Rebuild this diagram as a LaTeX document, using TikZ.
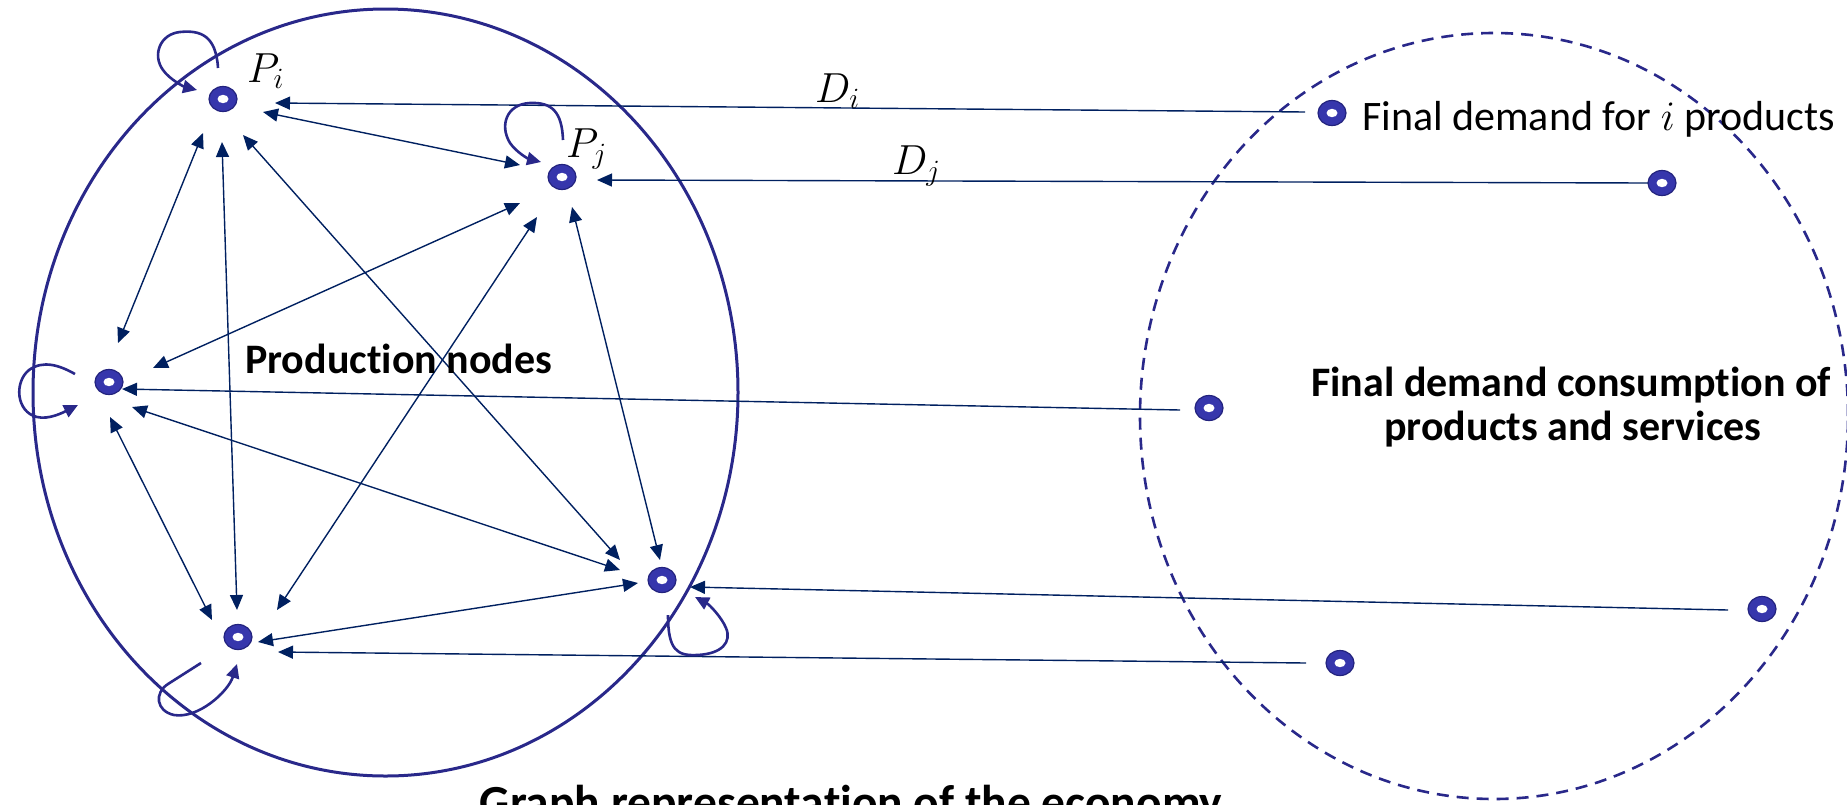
\RequirePackage{fix-cm}
\documentclass[tikz,border=0pt]{standalone}
\usepackage{fontspec}
\setmainfont{Carlito}[Ligatures=NoCommon]
\usetikzlibrary{arrows.meta,shapes.geometric}
\definecolor{navy}{HTML}{002060}
\definecolor{circblue}{HTML}{29288A}
\definecolor{ringfill}{HTML}{3636AC}
\definecolor{ringedge}{HTML}{23237E}
\begin{document}
\begin{tikzpicture}[x=1pt,y=-1pt,
  pnode/.style={ellipse, minimum width=28pt, minimum height=25pt, inner sep=0pt,
    fill=ringfill, draw=ringedge, line width=1.2pt,
    path picture={\fill[white] (path picture bounding box.center) ellipse [x radius=5.5pt, y radius=4.2pt];}},
  linkarr/.style={navy, line width=1.4pt, {Triangle[length=15pt,width=13pt]}-{Triangle[length=15pt,width=13pt]}},
  dmdarr/.style={navy, line width=1.4pt, -{Triangle[length=15pt,width=13pt]}},
  selfarr/.style={circblue, line width=2.6pt, -{Triangle[length=14pt,width=13pt]}},
  setshape/.style={ellipse, inner sep=0pt, draw=circblue},
  txt/.style={inner sep=0pt, font=\fontsize{42}{50}\selectfont},
  btxt/.style={inner sep=0pt, font=\fontsize{42}{50}\selectfont\bfseries},
  gtxt/.style={inner sep=0pt, font=\fontsize{47.5}{56}\selectfont\bfseries}
]
\useasboundingbox (0,0) rectangle (1847,804);

% the two sets
\node[setshape, line width=3pt, minimum width=705pt, minimum height=767pt] (prodset) at (385.5,392.5) {};
\node[setshape, line width=2.6pt, dash pattern=on 12pt off 8pt, minimum width=708pt, minimum height=766pt] (demset) at (1494,416) {};

% production nodes
\node[pnode] (Pi) at (223,99) {};
\node[pnode] (Pj) at (562,177) {};
\node[pnode] (Pl) at (109,382) {};
\node[pnode] (Pbl) at (238,637) {};
\node[pnode] (Pbr) at (662,580) {};
% final demand nodes
\node[pnode] (Fi) at (1332,113) {};
\node[pnode] (Fj) at (1662,183) {};
\node[pnode] (Fm) at (1209,408) {};
\node[pnode] (Fr) at (1762,609) {};
\node[pnode] (Fb) at (1340,663) {};

% links between production nodes
\draw[linkarr] ([shift={(40,13)}]Pi.center) -- ([shift={(-42,-12)}]Pj.center);
\draw[linkarr] ([shift={(-20,34)}]Pi.center) -- ([shift={(9,-39)}]Pl.center);
\draw[linkarr] ([shift={(-1,43)}]Pi.center) -- ([shift={(-1,-27)}]Pbl.center);
\draw[linkarr] ([shift={(20,36)}]Pi.center) -- ([shift={(-42,-20)}]Pbr.center);
\draw[linkarr] ([shift={(-42,26)}]Pj.center) -- ([shift={(44,-14)}]Pl.center);
\draw[linkarr] ([shift={(-25,40)}]Pj.center) -- ([shift={(39,-27)}]Pbl.center);
\draw[linkarr] ([shift={(10,30)}]Pj.center) -- ([shift={(-2,-20)}]Pbr.center);
\draw[linkarr] ([shift={(1,35)}]Pl.center) -- ([shift={(-26,-17)}]Pbl.center);
\draw[linkarr] ([shift={(23,25)}]Pl.center) -- ([shift={(-42,-10)}]Pbr.center);
\draw[linkarr] ([shift={(20,5)}]Pbl.center) -- ([shift={(-24,3)}]Pbr.center);

% final demand arrows
\draw[dmdarr] ([shift={(-27,-1)}]Fi.center) -- ([shift={(52,4)}]Pi.center);
\draw[dmdarr] ([shift={(-14,0)}]Fj.center) -- ([shift={(35,3)}]Pj.center);
\draw[dmdarr] ([shift={(-29,2)}]Fm.center) -- ([shift={(13,7)}]Pl.center);
\draw[dmdarr] ([shift={(-34,1)}]Fr.center) -- ([shift={(28,7)}]Pbr.center);
\draw[dmdarr] ([shift={(-34,0)}]Fb.center) -- ([shift={(40,15)}]Pbl.center);

% self loops
\begin{scope}[shift={(Pi.center)}]
  \draw[selfarr] (-5,-31) .. controls (-7,-64) and (-23,-69) .. (-43,-67)
    .. controls (-63,-65) and (-71,-44) .. (-60,-29)
    .. controls (-53,-19) and (-38,-12) .. (-26,-9);
\end{scope}
\begin{scope}[shift={(Pj.center)}]
  \draw[selfarr] (1,-37) .. controls (0,-65) and (-10,-75) .. (-32,-74)
    .. controls (-55,-73) and (-63,-52) .. (-52,-34)
    .. controls (-45,-24) and (-33,-18) .. (-21,-15);
\end{scope}
\begin{scope}[shift={(Pl.center)}]
  \draw[selfarr] (-34,-8) .. controls (-50,-17) and (-66,-22) .. (-80,-12)
    .. controls (-95,0) and (-93,30) .. (-72,35)
    .. controls (-60,38) and (-45,30) .. (-31,23);
\end{scope}
\begin{scope}[shift={(Pbl.center)}]
  \draw[selfarr] (-37,26) -- (-70,47) .. controls (-84,56) and (-82,74) .. (-64,78)
    .. controls (-40,82) and (-10,55) .. (-1,27);
\end{scope}
\begin{scope}[shift={(Pbr.center)}]
  \draw[selfarr] (6,35) .. controls (6,70) and (15,76) .. (35,75)
    .. controls (60,74) and (70,62) .. (64,48)
    .. controls (60,38) and (48,25) .. (33,17);
\end{scope}

% labels
\node[txt, anchor=base west] (lPi) at (247,82) {$P_i$};
\node[txt, anchor=base west] (lPj) at (566,157) {$P_j$};
\node[txt, anchor=base west] (lDi) at (815,102) {$D_i$};
\node[txt, anchor=base west] (lDj) at (892,174) {$D_j$};
\node[txt, anchor=base west] (lFi) at (1362,130) {Final demand for $i$ products};
\node[btxt, anchor=base west] (lProd) at (245,373) {Production nodes};
\node[btxt, anchor=base] (lF1) at (1571,396) {Final demand consumption of};
\node[btxt, anchor=base] (lF2) at (1573,440) {products and services};
\node[gtxt, anchor=base] (lG) at (851,818) {Graph representation of the economy};
\end{tikzpicture}
\end{document}
